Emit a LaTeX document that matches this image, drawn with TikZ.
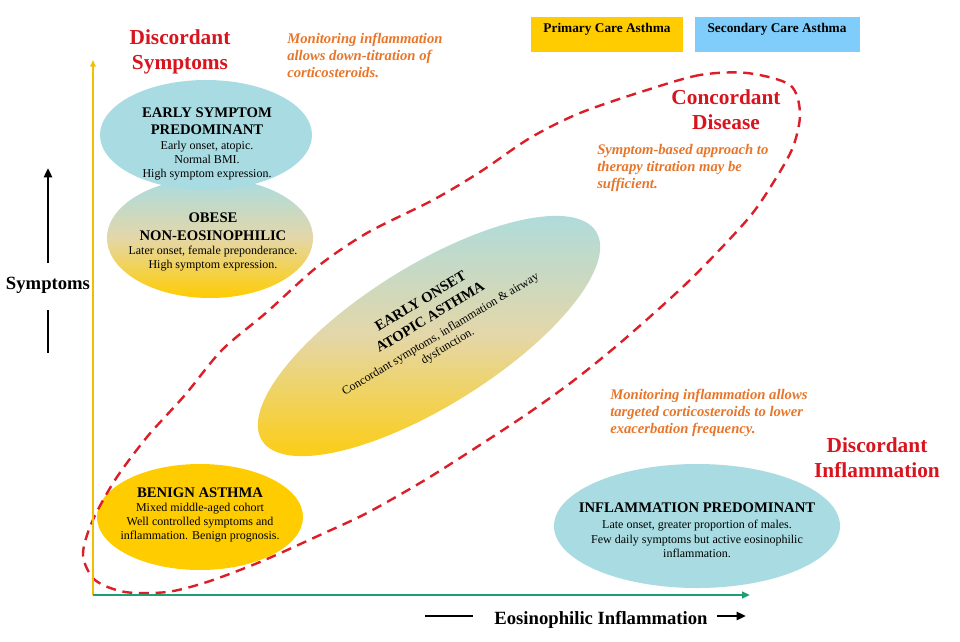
\documentclass[tikz,border=0pt]{standalone}
\usepackage{fontspec}
\setmainfont{Liberation Serif}
\usetikzlibrary{arrows.meta}
\definecolor{tealc}{HTML}{A8DCE2}
\definecolor{goldc}{HTML}{FFCC00}
\definecolor{beigec}{HTML}{E4D7A8}
\definecolor{legblue}{HTML}{80CCFA}
\definecolor{orangec}{HTML}{E8762A}
\definecolor{redc}{HTML}{D8141E}
\definecolor{dashred}{HTML}{DC1E28}
\definecolor{axisgold}{HTML}{F2BE00}
\definecolor{axisgreen}{HTML}{1E9E74}
\begin{document}
\begin{tikzpicture}[x=0.75pt,y=-0.75pt,
  head/.style={font=\fontsize{11}{12.75}\selectfont\bfseries, align=center, inner sep=0pt},
  body/.style={font=\fontsize{9}{10.5}\selectfont, align=center, inner sep=0pt},
  note/.style={font=\fontsize{11}{12.75}\selectfont\bfseries\itshape, text=orangec, align=left, anchor=west, inner sep=0pt},
  region/.style={font=\fontsize{16}{18.5}\selectfont\bfseries, text=redc, align=center, inner sep=0pt},
  axlabel/.style={font=\fontsize{14}{16}\selectfont\bfseries, inner sep=0pt},
  legtext/.style={font=\fontsize{10}{12}\selectfont\bfseries, inner sep=0pt},
  bigarrow/.style={line width=2.2pt, -{Triangle[length=7pt,width=6pt]}},
  barline/.style={line width=2.2pt},
  blend/.style={top color=tealc, bottom color=goldc, middle color=beigec},
]
\useasboundingbox[fill=white] (0,0) rectangle (960,642);

% legend
\fill[goldc] (531,17) rectangle (683,52);
\fill[legblue] (695,17) rectangle (860,52);
\node[legtext] (prim) at (607,29) {Primary Care Asthma};
\node[legtext] (sec) at (777,29) {Secondary Care Asthma};

% ellipses
\shade[blend] (210,238) ellipse [x radius=103, y radius=60];
\fill[tealc] (206,135) ellipse [x radius=106, y radius=55];
\shade[blend] (429,336) ellipse [x radius=197, y radius=70, rotate=32];
\fill[goldc] (200,517) ellipse [x radius=103, y radius=53];
\fill[tealc] (697,526) ellipse [x radius=143, y radius=62];

% concordant region
\draw[dashred, line width=1.8pt, dash pattern=on 7.5pt off 5pt]
  plot[smooth cycle, tension=0.5] coordinates {
  (747,73) (700,75) (647,90) (580,113) (530,138) (480,172) (433,200)
  (367,233) (317,267) (267,312) (222,350) (185,395) (147,437) (115,480)
  (92,522) (83,555) (95,580) (125,592) (167,592) (207,582) (260,562)
  (320,535) (367,513) (425,480) (480,445) (530,412) (577,378) (627,337)
  (690,280) (747,220) (773,183) (793,147) (800,113) (790,85)};

% axes
\coordinate (O) at (93,595);
\coordinate (ytop) at (93,60);
\coordinate (xend) at (750,595);
\draw[axisgold, line width=1.2pt, -{Triangle[length=5pt,width=4pt]}] (O) -- (ytop);
\draw[axisgreen, line width=1.5pt, -{Triangle[length=6pt,width=5pt]}] (O) -- (xend);

% axis labels
\node[axlabel] (ysym) at (48,285) {Symptoms};
\coordinate (ya1) at (48,263);
\coordinate (ya2) at (48,168);
\coordinate (yb1) at (48,310);
\coordinate (yb2) at (48,353);
\draw[bigarrow] (ya1) -- (ya2);
\draw[barline] (yb1) -- (yb2);
\node[axlabel] (xinf) at (601,620) {Eosinophilic Inflammation};
\coordinate (xa1) at (425,616);
\coordinate (xa2) at (473,616);
\coordinate (xb1) at (717,616);
\coordinate (xb2) at (746,616);
\draw[barline] (xa1) -- (xa2);
\draw[bigarrow] (xb1) -- (xb2);

% region labels
\node[region] (dsym) at (180,52) {Discordant\\Symptoms};
\node[region] (cdis) at (726,110) {Concordant\\Disease};
\node[region] (dinf) at (877,458) {Discordant\\Inflammation};

% notes
\node[note] (n1) at (287,55) {Monitoring inflammation\\allows down-titration of\\corticosteroids.};
\node[note] (n2) at (597,168) {Symptom-based approach to\\therapy titration may be\\sufficient.};
\node[note] (n3) at (610,413) {Monitoring inflammation allows\\targeted corticosteroids to lower\\exacerbation frequency.};

% ellipse texts
\node[head] (esph) at (207,121.5) {EARLY SYMPTOM\\PREDOMINANT};
\node[body] (espb) at (207,161) {Early onset, atopic.\\Normal BMI.\\High symptom expression.};
\node[head, font=\fontsize{11}{13.5}\selectfont\bfseries] (oneh) at (213,227) {OBESE\\NON-EOSINOPHILIC};
\node[body] (oneb) at (213,259) {Later onset, female preponderance.\\High symptom expression.};
\node[head] (bah) at (200,493) {BENIGN ASTHMA};
\node[body] (bab) at (200,523) {Mixed middle-aged cohort\\Well controlled symptoms and\\inflammation. Benign prognosis.};
\node[head] (iph) at (697,508) {INFLAMMATION PREDOMINANT};
\node[body, font=\fontsize{9}{10.9}\selectfont] (ipb) at (697,539) {Late onset, greater proportion of males.\\Few daily symptoms but active eosinophilic\\inflammation.};

\begin{scope}[shift={(436,327)}, rotate=31, transform shape]
  \node[head, font=\fontsize{11}{14}\selectfont\bfseries] (eoah) at (0,-21) {EARLY ONSET\\ATOPIC ASTHMA};
  \node[body] (eoab) at (0,16) {Concordant symptoms, inflammation \& airway\\dysfunction.};
\end{scope}
\end{tikzpicture}
\end{document}
